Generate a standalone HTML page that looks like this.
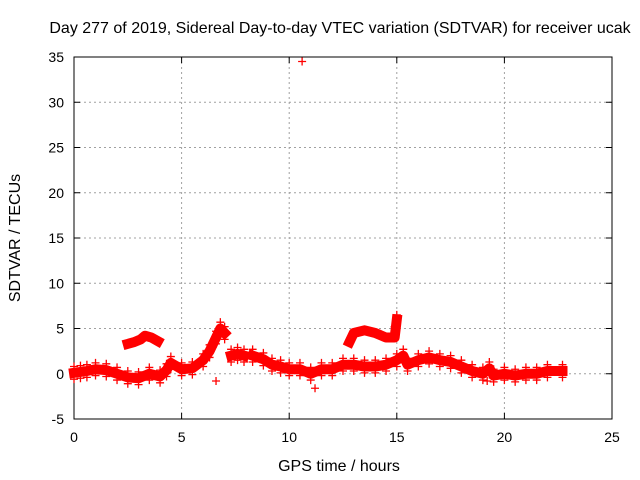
<!DOCTYPE html>
<html><head><meta charset="utf-8"><style>
body{margin:0;background:#fff;}
svg{display:block;font-family:"Liberation Sans",sans-serif;}
</style></head><body>
<svg id="chart" width="640" height="480">
<text x="340" y="33" font-size="16" text-anchor="middle">Day 277 of 2019, Sidereal Day-to-day VTEC variation (SDTVAR) for receiver ucak</text>
<text x="339" y="471" font-size="16" text-anchor="middle">GPS time / hours</text>
<text transform="translate(20,238) rotate(-90)" font-size="16" text-anchor="middle">SDTVAR / TECUs</text>
<g id="grid"></g><g id="axes"></g><g id="marks"></g>
</svg>
<script>
const xTicks=[0,5,10,15,20,25];
const yTicks=[-5,0,5,10,15,20,25,30,35];
const mainT=[0,0.3,0.6,1,1.5,2,2.5,3,3.5,4,4.3,4.5,5,5.5,6,6.3,6.6,6.8,7,null,7.3,7.6,7.9,null,8.3,8.8,9.2,9.6,10,10.5,11,11.5,12,12.5,13,13.5,14,14.5,15,15.3,15.5,16,16.5,17,17.5,18,18.5,19,19.3,19.5,20,20.5,21,21.5,22,22.7];
const mainV=[0.1,0.2,0.3,0.5,0.4,0,-0.4,-0.5,0,-0.3,0.4,1.2,0.5,0.6,1.5,2.5,4,5,4.5,null,2,2.2,2,null,2,1.6,1,0.8,0.5,0.5,0,0.5,0.5,1,1,0.8,0.8,1,1.5,2,1,1.5,1.8,1.5,1.3,0.8,0.3,0,0.6,-0.2,0,-0.2,0,0,0.3,0.3];
const arcT=[2.5,2.8,3.1,3.3,3.6,3.9,null,12.8,13,13.5,14,14.5,14.9,15];
const arcV=[3.3,3.5,3.8,4.2,4.0,3.6,null,3.5,4.5,4.8,4.5,4.0,4.0,6];
const outT=[10.6,15,14.9,6.6,11.2,19.2];
const outV=[34.5,6.5,5.2,-0.8,-1.6,-0.8];
const NS='http://www.w3.org/2000/svg';
const x0=74,x1=612,y0=419,y1=57;
const X=t=>x0+(t-0)/25*(x1-x0);
const Y=v=>y0-(v+5)/40*(y0-y1);
function el(tag,attrs,parent){const e=document.createElementNS(NS,tag);for(const k in attrs)e.setAttribute(k,attrs[k]);parent.appendChild(e);return e;}
const grid=document.getElementById('grid'),axes=document.getElementById('axes'),marks=document.getElementById('marks');
xTicks.forEach(t=>{
 if(t>0&&t<25){const g=el('line',{x1:X(t),x2:X(t),y1:y1,y2:y0,stroke:'#a0a0a0','stroke-dasharray':'2,3'},grid);
 
 }
 const tx=el('text',{x:X(t),y:y0+23,'font-size':14,'text-anchor':'middle'},axes);tx.textContent=t;
 
 
 el('line',{x1:X(t),x2:X(t),y1:y0,y2:y0-6,stroke:'#000'},axes);
 el('line',{x1:X(t),x2:X(t),y1:y1,y2:y1+6,stroke:'#000'},axes);
});
yTicks.forEach(v=>{
 if(v>-5&&v<35){const g=el('line',{x1:x0,x2:x1,y1:Y(v),y2:Y(v),stroke:'#a0a0a0','stroke-dasharray':'2,3'},grid);
 
 }
 const tx=el('text',{x:x0-10,y:Y(v)+5,'font-size':14,'text-anchor':'end'},axes);tx.textContent=v;
 
 
 el('line',{x1:x0,x2:x0+6,y1:Y(v),y2:Y(v),stroke:'#000'},axes);
 el('line',{x1:x1,x2:x1-6,y1:Y(v),y2:Y(v),stroke:'#000'},axes);
});
const frame=el('rect',{x:x0,y:y1,width:x1-x0,height:y0-y1,fill:'none',stroke:'#000'},axes);


function band(T,V,name){
 let seg=[];const segs=[];
 T.forEach((t,i)=>{if(t===null){if(seg.length)segs.push(seg);seg=[];}else seg.push([X(t),Y(V[i])]);});
 if(seg.length)segs.push(seg);
 segs.forEach(s=>{
  const p=el('polyline',{points:s.map(q=>q.join(',')).join(' '),fill:'none',stroke:'#f00','stroke-width':10,'stroke-linejoin':'round','stroke-linecap':'square'},marks);
  
  
 });
}
function plus(t,v){
 const g=el('path',{d:`M${X(t)-4},${Y(v)}h8M${X(t)},${Y(v)-4}v8`,stroke:'#f00','stroke-width':1.3},marks);
 
 
}
band(mainT,mainV,'sdtvar-main-band');
band(arcT,arcV,'sdtvar-upper-band');
mainT.forEach((t,i)=>{if(t!==null){plus(t,mainV[i]+0.7);plus(t,mainV[i]-0.7);}});
outT.forEach((t,i)=>plus(t,outV[i]));
</script>
</body></html>
